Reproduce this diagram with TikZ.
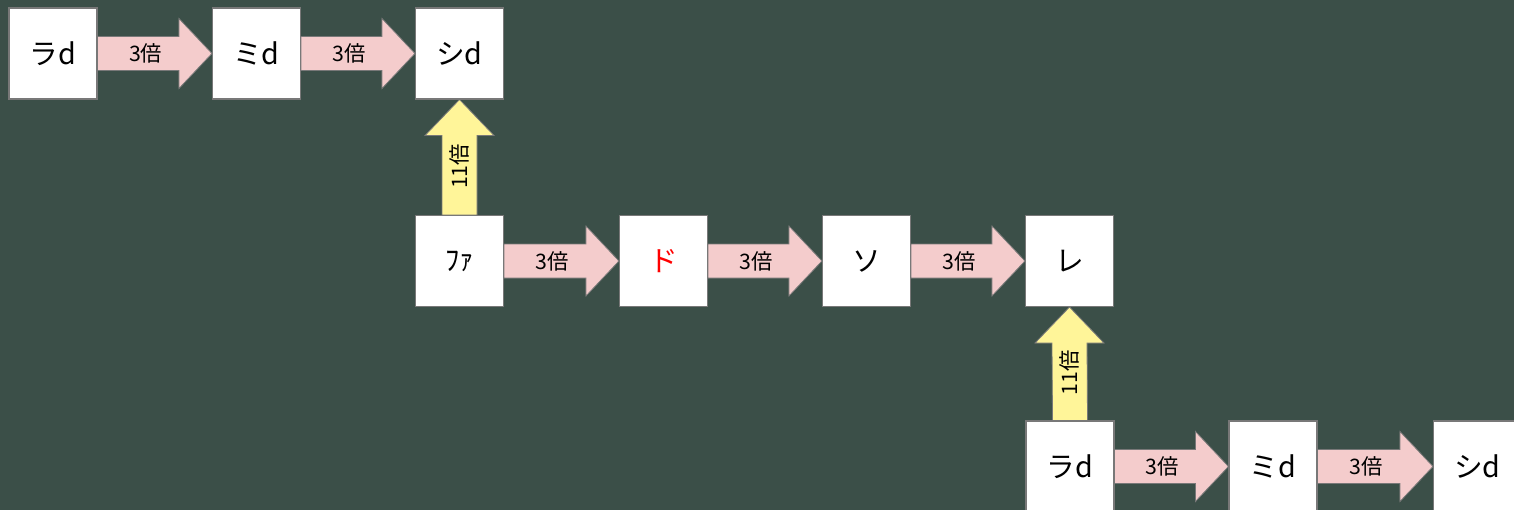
\documentclass[tikz,border=0pt]{standalone}
\usepackage{fontspec}
\setmainfont{Noto Sans CJK JP}
\usetikzlibrary{calc}
\definecolor{boardbg}{RGB}{59,79,72}
\definecolor{edgegray}{RGB}{120,120,120}
\definecolor{pinkfill}{RGB}{244,204,204}
\definecolor{yellowfill}{RGB}{255,245,153}
\tikzset{
  note/.style={draw=edgegray, line width=0.8pt, fill=white, minimum width=88*0.75pt,
    minimum height=91*0.75pt, inner sep=0pt, font=\fontsize{21.5}{24}\selectfont},
  pinkarrow/.style={draw=edgegray, line width=0.6pt, fill=pinkfill},
  yellowarrow/.style={draw=edgegray, line width=0.6pt, fill=yellowfill},
  factor/.style={font=\fontsize{16}{18}\selectfont, inner sep=0pt},
}
% horizontal block arrow from the east side of #1 to the west side of #2
\newcommand\ratioright[2]{%
  \draw[pinkarrow] ($(#1.east)+(0,-17)$) -- ($(#2.west)+(-33,-17)$) -- ($(#2.west)+(-33,-35)$)
    -- (#2.west) -- ($(#2.west)+(-33,35)$) -- ($(#2.west)+(-33,17)$) -- ($(#1.east)+(0,17)$) -- cycle;
  \node[factor] at ($(#1.east)!0.42!(#2.west)$) {3倍};}
% vertical block arrow from the north side of #1 to the south side of #2
\newcommand\ratioup[2]{%
  \draw[yellowarrow] ($(#1.north)+(-17.5,0)$) -- ($(#2.south)+(-17.5,36)$) -- ($(#2.south)+(-34.5,36)$)
    -- (#2.south) -- ($(#2.south)+(34.5,36)$) -- ($(#2.south)+(17.5,36)$) -- ($(#1.north)+(17.5,0)$) -- cycle;
  \node[factor, rotate=90] at ($(#1.north)!0.42!(#2.south)$) {11倍};}
\begin{document}
\begin{tikzpicture}[x=0.75pt, y=-0.75pt]
  \fill[boardbg] (0,0) rectangle (1514,510);
  \useasboundingbox (0,0) rectangle (1514,510);
  % top row
  \node[note] (ra1) at (53,53.5) {ラd};
  \node[note] (mi1) at (256.5,53.5) {ミd};
  \node[note] (si1) at (459.5,53.5) {シd};
  % middle row
  \node[note] (fa) at (459.5,261) {ﾌｧ};
  \node[note, text=red] (do) at (663.5,261) {ド};
  \node[note] (so) at (866.5,261) {ソ};
  \node[note] (re) at (1069.5,261) {レ};
  % bottom row
  \node[note] (ra2) at (1070,466.5) {ラd};
  \node[note] (mi2) at (1273,466.5) {ミd};
  \node[note] (si2) at (1477.5,466.5) {シd};
  \ratioright{ra1}{mi1}
  \ratioright{mi1}{si1}
  \ratioup{fa}{si1}
  \ratioright{fa}{do}
  \ratioright{do}{so}
  \ratioright{so}{re}
  \ratioup{ra2}{re}
  \ratioright{ra2}{mi2}
  \ratioright{mi2}{si2}
\end{tikzpicture}
\end{document}
